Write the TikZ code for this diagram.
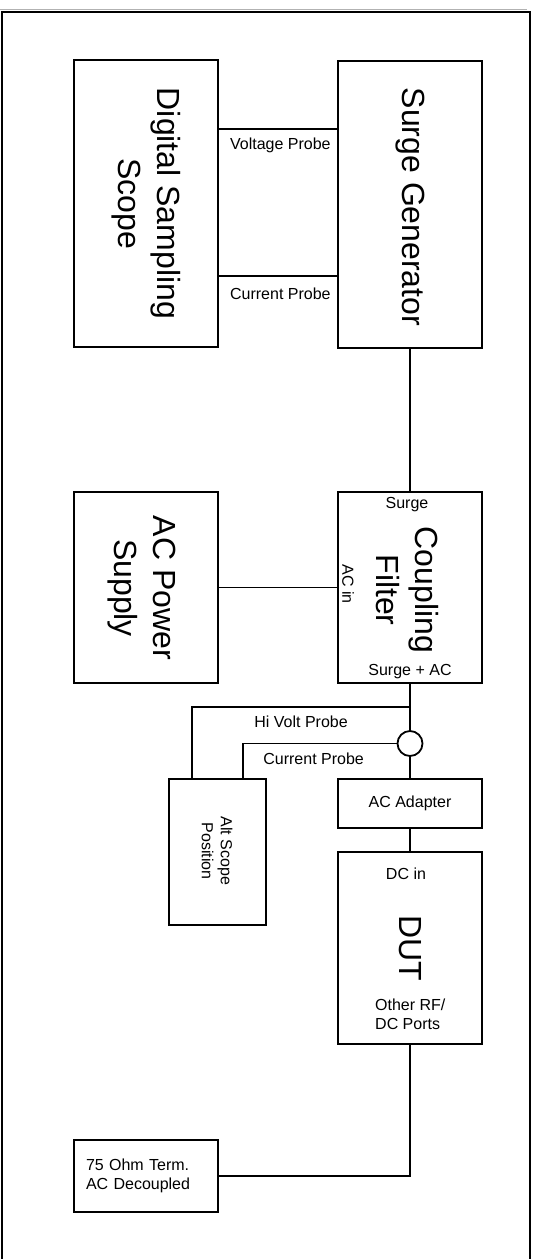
\documentclass[tikz,border=0pt]{standalone}
\usepackage{fontspec}
\setmainfont{Liberation Sans}
\usepackage{tikz}
\usetikzlibrary{shapes}
\usetikzlibrary{positioning}
\tikzset{
  box/.style={draw,line width=1.8pt,inner sep=0pt,minimum width=144pt},
  big text/.style={font=\fontsize{32}{39}\selectfont,align=center,rotate=-90,inner sep=0pt},
  small text/.style={font=\fontsize{16}{19}\selectfont,inner sep=0pt},
  wire/.style={line width=1.8pt}
}
\begin{document}
\begin{tikzpicture}[x=1pt,y=-1pt,line join=miter]
        \useasboundingbox (0,0) rectangle (534,1259);
        \draw [gray!60,line width=1.2pt] (0,9.8) -- (527,9.8);
        \draw [line width=1.8pt] (2,1262) -- (2,12) -- (530,12) -- (530,1262);
        \node [box,minimum height=287pt] (scope) at (146,203.5) {};
        \node [box,minimum height=287pt] (surge) at (410,204.5) {};
        \node [box,minimum height=191pt] (acps) at (146,587.5) {};
        \node [box,minimum height=191pt] (filter) at (410,587.5) {};
        \node [box,small text,minimum height=49pt] (adapter) at (410,803.5) {AC Adapter};
        \node [box,minimum height=192pt] (dut) at (410,948) {};
        \node [box,minimum width=97pt,minimum height=146pt] (alt) at (217.5,852) {};
        \node [box,small text,align=left,text width=120pt,inner xsep=12pt,minimum height=72pt] (term) at (146,1176) {75 Ohm Term.\\AC Decoupled};
        \node [draw,circle,line width=1.8pt,minimum size=25pt,inner sep=0pt] (probe) at (410,743.5) {};
        \node [big text] (scope text) at (scope) {Digital Sampling\\Scope};
        \node [big text] (surge text) at (410,207) {Surge Generator};
        \node [big text] (acps text) at (142,588) {AC Power\\Supply};
        \node [big text] (filter text) at (407.5,590) {Coupling\\Filter};
        \node [big text] (dut text) at (dut) {DUT};
        \node [small text,align=center,rotate=-90] (alt text) at (217,851) {Alt Scope\\Position};
        \node [small text] (surge in) at (407,505) {Surge};
        \node [small text] (surge out) at (410,672) {Surge + AC};
        \node [small text,rotate=-90] (ac in) at (348,584) {AC in};
        \node [small text] (dc in) at (406,874) {DC in};
        \node [small text,align=left,anchor=west] (ports) at (375,1014.5) {Other RF/\\DC Ports};
        \coordinate (vp) at (0,129);
        \coordinate (cp) at (0,276);
        \coordinate (hv) at (410,707);
        \draw [wire] (scope.east |- vp) -- (surge.west |- vp)
                node [small text,pos=0.52,below=8pt] (vp text) {Voltage Probe};
        \draw [wire] (scope.east |- cp) -- (surge.west |- cp)
                node [small text,pos=0.52,below=11pt] (cp text) {Current Probe};
        \draw [wire] (surge.south) -- (filter.north);
        \draw [wire] (acps.east) -- (filter.west);
        \draw [wire] (filter.south) -- (probe.north);
        \draw [wire] ([xshift=24pt]alt.north west) |- (hv)
                node [small text,pos=0.75,below=8pt] (hv text) {Hi Volt Probe};
        \draw [wire] ([xshift=-24pt]alt.north east) |- (probe.west)
                node [small text,pos=0.73,below=8pt] (ip text) {Current Probe};
        \draw [wire] (probe.south) -- (adapter.north);
        \draw [wire] (adapter.south) -- (dut.north);
        \draw [wire] (dut.south) |- (term.east);
\end{tikzpicture}
\end{document}
